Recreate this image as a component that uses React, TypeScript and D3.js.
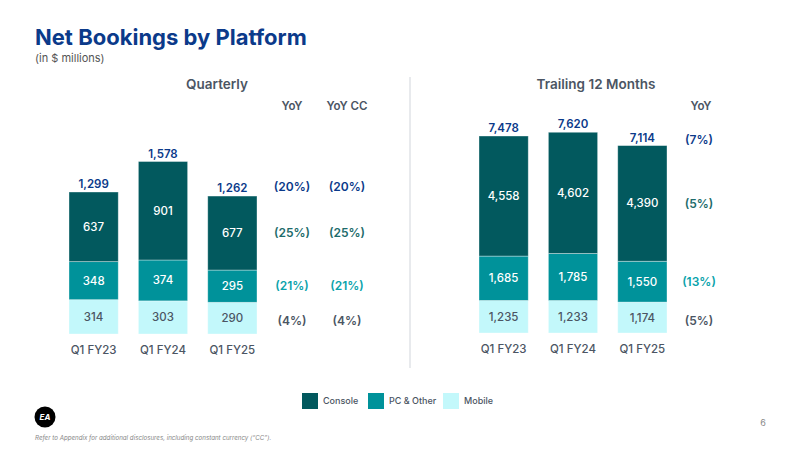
import React from 'react';
import * as d3 from 'd3';

// data
const categories = ['Q1 FY23', 'Q1 FY24', 'Q1 FY25'];
const platforms = ['Console', 'PC & Other', 'Mobile'];

const quarterlyConsole = [637, 901, 677];
const quarterlyPc = [348, 374, 295];
const quarterlyMobile = [314, 303, 290];
const quarterlyTotal = [1299, 1578, 1262];
const quarterlyYoy = ['(20%)', '(25%)', '(21%)', '(4%)'];
const quarterlyYoyCc = ['(20%)', '(25%)', '(21%)', '(4%)'];

const ttmConsole = [4558, 4602, 4390];
const ttmPc = [1685, 1785, 1550];
const ttmMobile = [1235, 1233, 1174];
const ttmTotal = [7478, 7620, 7114];
const ttmYoy = ['(7%)', '(5%)', '(13%)', '(5%)'];

const colors = ['#02595E', '#00929A', '#C3F8FB'];
const segText = ['#ffffff', '#ffffff', '#4b5563'];
const yoyColors = ['#0b3a8a', '#1d6b6b', '#0aa3ab', '#4b5563'];
const navy = '#0b3a8a';
const font = 'Inter, "Open Sans", sans-serif';
const fmt = d3.format(',');

type PanelProps = {
  x0: number;
  x1: number;
  base: number;
  top: number;
  maxVal: number;
  cons: number[];
  pc: number[];
  mob: number[];
  totals: number[];
};

const Panel: React.FC<PanelProps> = ({ x0, x1, base, top, maxVal, cons, pc, mob, totals }) => {
  const x = d3.scaleBand<string>().domain(categories).range([x0, x1]).paddingInner(0.29).paddingOuter(0);
  const y = d3.scaleLinear().domain([0, maxVal]).range([base, top]);
  const rows = categories.map((c, i) => ({ c, vals: [cons[i], pc[i], mob[i]], total: totals[i] }));
  const stack = d3.stack<any>().keys(['2', '1', '0']).value((d, k) => d.vals[+k]);
  const series = stack(rows as any);

  return (
    <g>
      {series.map(s => {
        const k = +s.key;
        return (
          <g key={s.key}>
            {s.map((d, i) => (
              <g key={i}>
                <rect
                  x={x(categories[i])}
                  y={y(d[1])}
                  width={x.bandwidth()}
                  height={y(d[0]) - y(d[1])}
                  fill={colors[k]}
                  stroke="rgba(255,255,255,0.45)"
                  strokeWidth={0.8}
                />
                <text
                  x={(x(categories[i]) as number) + x.bandwidth() / 2}
                  y={(y(d[0]) + y(d[1])) / 2}
                  dy="0.35em"
                  textAnchor="middle"
                  fontSize={11.5}
                  fontWeight={500}
                  fill={segText[k]}
                >
                  {fmt(rows[i].vals[k])}
                </text>
              </g>
            ))}
          </g>
        );
      })}
      {rows.map(r => (
        <text
          key={r.c}
          x={(x(r.c) as number) + x.bandwidth() / 2}
          y={y(r.total) - 4}
          textAnchor="middle"
          fontSize={11.5}
          fontWeight={600}
          fill={navy}
        >
          {fmt(r.total)}
        </text>
      ))}
      {categories.map(c => (
        <text
          key={c}
          x={(x(c) as number) + x.bandwidth() / 2}
          y={base + 20}
          textAnchor="middle"
          fontSize={11.5}
          fontWeight={500}
          fill="#4b5563"
        >
          {c}
        </text>
      ))}
    </g>
  );
};

// y positions of YoY text follow the midpoints of the latest bar's segments
const yoyYs = (base: number, top: number, maxVal: number, cons: number, pc: number, mob: number, total: number, lift: number) => {
  const y = d3.scaleLinear().domain([0, maxVal]).range([base, top]);
  return [y(total) - lift, y(mob + pc + cons / 2), y(mob + pc / 2), y(mob / 2) + 3];
};

export default function App() {
  const qY = yoyYs(334, 192, 1299, quarterlyConsole[2], quarterlyPc[2], quarterlyMobile[2], quarterlyTotal[2], 9);
  const tY = yoyYs(333, 136, 7478, ttmConsole[2], ttmPc[2], ttmMobile[2], ttmTotal[2], 6);

  return (
    <svg width={800} height={450} style={{ position: 'absolute', left: 0, top: 0, background: '#fff' }} fontFamily={font}>
      <text x={35} y={45} fontSize={22} fontWeight={700} fill={navy}>Net Bookings by Platform</text>
      <text x={35} y={62} fontSize={11} fill="#555">(in $ millions)</text>

      <text x={217} y={89} textAnchor="middle" fontSize={13.5} fontWeight={600} fill="#4b5563">Quarterly</text>
      <text x={596} y={89} textAnchor="middle" fontSize={13.5} fontWeight={600} fill="#4b5563">Trailing 12 Months</text>

      <line x1={410} x2={410} y1={77} y2={368} stroke="#d1d5db" strokeWidth={1} />

      <text x={292} y={110} textAnchor="middle" fontSize={11.5} fontWeight={600} fill="#4b5563">YoY</text>
      <text x={347} y={110} textAnchor="middle" fontSize={11.5} fontWeight={600} fill="#4b5563">YoY CC</text>
      <text x={701} y={110} textAnchor="middle" fontSize={11.5} fontWeight={600} fill="#4b5563">YoY</text>

      <Panel x0={69} x1={257} base={334} top={192} maxVal={1299}
        cons={quarterlyConsole} pc={quarterlyPc} mob={quarterlyMobile} totals={quarterlyTotal} />
      <Panel x0={479} x1={667} base={333} top={136} maxVal={7478}
        cons={ttmConsole} pc={ttmPc} mob={ttmMobile} totals={ttmTotal} />

      {quarterlyYoy.map((t, i) => (
        <text key={'q' + i} x={292} y={qY[i]} dy="0.35em" textAnchor="middle" fontSize={12} fontWeight={600} fill={yoyColors[i]}>{t}</text>
      ))}
      {quarterlyYoyCc.map((t, i) => (
        <text key={'c' + i} x={347} y={qY[i]} dy="0.35em" textAnchor="middle" fontSize={12} fontWeight={600} fill={yoyColors[i]}>{t}</text>
      ))}
      {ttmYoy.map((t, i) => (
        <text key={'t' + i} x={699} y={tY[i]} dy="0.35em" textAnchor="middle" fontSize={12} fontWeight={600} fill={yoyColors[i]}>{t}</text>
      ))}

      {/* legend */}
      {platforms.map((p, i) => {
        const lx = [302, 368, 443][i];
        return (
          <g key={p}>
            <rect x={lx} y={393} width={16} height={16} fill={colors[i]} />
            <text x={lx + 21} y={401} dy="0.35em" fontSize={9} fontWeight={500} fill="#4b5563">{p}</text>
          </g>
        );
      })}

      {/* footer */}
      <circle cx={45} cy={417} r={10.5} fill="#000" />
      <text x={45} y={417} dy="0.35em" textAnchor="middle" fontSize={8} fontWeight={700} fontStyle="italic" fill="#fff">EA</text>
      <text x={763} y={426} textAnchor="middle" fontSize={9} fill="#888">6</text>
      <text x={35} y={440} fontSize={6.2} fontStyle="italic" fill="#888">Refer to Appendix for additional disclosures, including constant currency (“CC”).</text>
    </svg>
  );
}
